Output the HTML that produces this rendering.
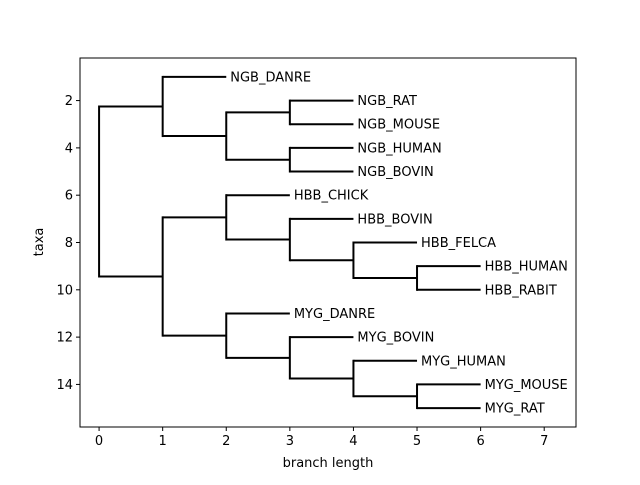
<!DOCTYPE html>
<html><head><meta charset="utf-8"><style>
body{margin:0;background:#fff}
svg text{font-family:"DejaVu Sans","Liberation Sans",sans-serif;font-size:13px;fill:#000}
</style></head><body>
<svg width="640" height="480" id="c">
<rect x="0" y="0" width="640" height="480" fill="#fff"/>
<g id="plot"></g>
<rect x="80" y="58" width="496" height="369" fill="none" stroke="#000" stroke-width="1"/>
<text x="328" y="467" text-anchor="middle">branch length</text>
<text transform="translate(43,242) rotate(-90)" text-anchor="middle">taxa</text>
</svg>
<script>
const xTicks=[0,1,2,3,4,5,6,7];
const yTicks=[2,4,6,8,10,12,14];
const tree={len:0,children:[
 {len:1,children:[
  {len:1,name:"NGB_DANRE"},
  {len:1,children:[
   {len:1,children:[{len:1,name:"NGB_RAT"},{len:1,name:"NGB_MOUSE"}]},
   {len:1,children:[{len:1,name:"NGB_HUMAN"},{len:1,name:"NGB_BOVIN"}]}]}]},
 {len:1,children:[
  {len:1,children:[
   {len:1,name:"HBB_CHICK"},
   {len:1,children:[
    {len:1,name:"HBB_BOVIN"},
    {len:1,children:[
     {len:1,name:"HBB_FELCA"},
     {len:1,children:[{len:1,name:"HBB_HUMAN"},{len:1,name:"HBB_RABIT"}]}]}]}]},
  {len:1,children:[
   {len:1,name:"MYG_DANRE"},
   {len:1,children:[
    {len:1,name:"MYG_BOVIN"},
    {len:1,children:[
     {len:1,name:"MYG_HUMAN"},
     {len:1,children:[{len:1,name:"MYG_MOUSE"},{len:1,name:"MYG_RAT"}]}]}]}]}]}]};
const L=80,R=576,T=58,B=427,x0=-0.3,x1=7.5,y0=0.2,y1=15.8;
const X=v=>L+(v-x0)/(x1-x0)*(R-L);
const Y=v=>T+(v-y0)/(y1-y0)*(B-T);
const NS="http://www.w3.org/2000/svg";
const svg=document.getElementById('c'),g=document.getElementById('plot');
function mk(t,a){const e=document.createElementNS(NS,t);for(const k in a)e.setAttribute(k,a[k]);return e;}
let leaf=0;
function layout(n,d){n.x=d+n.len;if(!n.children){leaf++;n.y=leaf;return;}
 n.children.forEach(c=>layout(c,n.x));n.y=(n.children[0].y+n.children[n.children.length-1].y)/2;}
layout(tree,0);
function draw(n,px){
 const h=mk('line',{x1:X(px),x2:X(n.x),y1:Y(n.y),y2:Y(n.y),stroke:'#000','stroke-width':2});
 
 
 g.appendChild(h);
 if(n.children){
  const v=mk('line',{x1:X(n.x),x2:X(n.x),y1:Y(n.children[0].y),y2:Y(n.children[n.children.length-1].y),stroke:'#000','stroke-width':2,'stroke-linecap':'square'});
  
  
  g.appendChild(v);
  n.children.forEach(c=>draw(c,n.x));
 } else {
  const t=mk('text',{x:X(n.x)+4,y:Y(n.y)+4.5});
  t.textContent=n.name;
  
  
  g.appendChild(t);
 }
}
draw(tree,0);
xTicks.forEach(v=>{
 const l=mk('line',{x1:X(v),x2:X(v),y1:B,y2:B+4,stroke:'#000'});
 
 
 svg.appendChild(l);
 const t=mk('text',{x:X(v),y:B+18,'text-anchor':'middle'});t.textContent=v;
 
 
 svg.appendChild(t);
});
yTicks.forEach(v=>{
 const l=mk('line',{x1:L-4,x2:L,y1:Y(v),y2:Y(v),stroke:'#000'});
 
 
 svg.appendChild(l);
 const t=mk('text',{x:L-7,y:Y(v)+4.5,'text-anchor':'end'});t.textContent=v;
 
 
 svg.appendChild(t);
});
</script>
</body></html>
